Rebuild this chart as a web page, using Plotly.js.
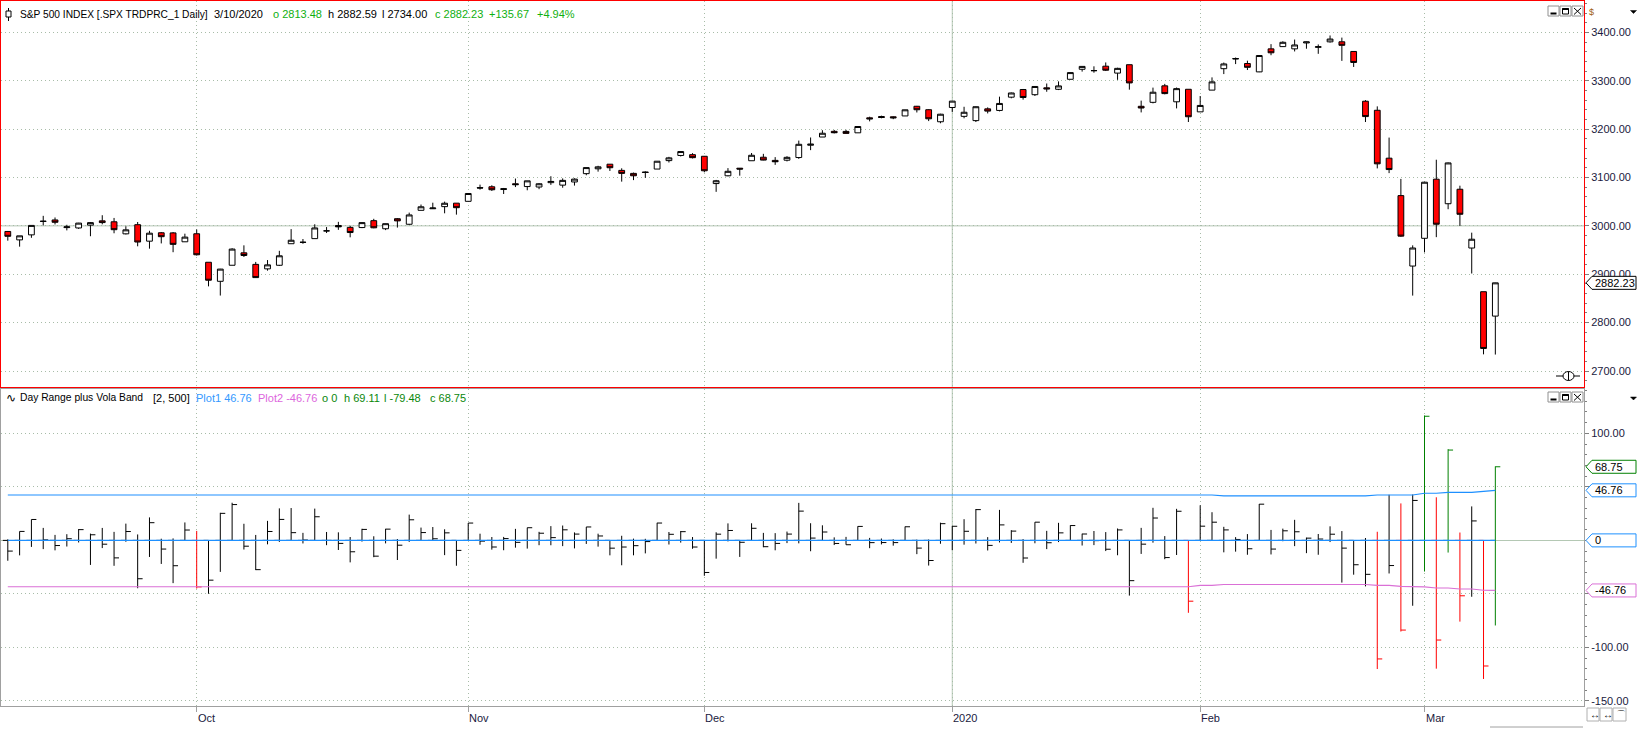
<!DOCTYPE html>
<html><head><meta charset="utf-8">
<script src="https://cdn.plot.ly/plotly-3.0.1.min.js"></script>
<style>html,body{margin:0;padding:0;background:#fff;overflow:hidden}#chart{width:1637px;height:730px;}</style>
</head><body><div id="chart"></div>
<script>
// ---------------- DATA ----------------
const dates = [
'2019-09-09','2019-09-10','2019-09-11','2019-09-12','2019-09-13','2019-09-16','2019-09-17','2019-09-18','2019-09-19','2019-09-20',
'2019-09-23','2019-09-24','2019-09-25','2019-09-26','2019-09-27','2019-09-30',
'2019-10-01','2019-10-02','2019-10-03','2019-10-04','2019-10-07','2019-10-08','2019-10-09','2019-10-10','2019-10-11','2019-10-14',
'2019-10-15','2019-10-16','2019-10-17','2019-10-18','2019-10-21','2019-10-22','2019-10-23','2019-10-24','2019-10-25','2019-10-28',
'2019-10-29','2019-10-30','2019-10-31',
'2019-11-01','2019-11-04','2019-11-05','2019-11-06','2019-11-07','2019-11-08','2019-11-11','2019-11-12','2019-11-13','2019-11-14',
'2019-11-15','2019-11-18','2019-11-19','2019-11-20','2019-11-21','2019-11-22','2019-11-25','2019-11-26','2019-11-27','2019-11-29',
'2019-12-02','2019-12-03','2019-12-04','2019-12-05','2019-12-06','2019-12-09','2019-12-10','2019-12-11','2019-12-12','2019-12-13',
'2019-12-16','2019-12-17','2019-12-18','2019-12-19','2019-12-20','2019-12-23','2019-12-24','2019-12-26','2019-12-27','2019-12-30',
'2019-12-31',
'2020-01-02','2020-01-03','2020-01-06','2020-01-07','2020-01-08','2020-01-09','2020-01-10','2020-01-13','2020-01-14','2020-01-15',
'2020-01-16','2020-01-17','2020-01-21','2020-01-22','2020-01-23','2020-01-24','2020-01-27','2020-01-28','2020-01-29','2020-01-30',
'2020-01-31',
'2020-02-03','2020-02-04','2020-02-05','2020-02-06','2020-02-07','2020-02-10','2020-02-11','2020-02-12','2020-02-13','2020-02-14',
'2020-02-18','2020-02-19','2020-02-20','2020-02-21','2020-02-24','2020-02-25','2020-02-26','2020-02-27','2020-02-28',
'2020-03-02','2020-03-03','2020-03-04','2020-03-05','2020-03-06','2020-03-09','2020-03-10'
];
const openP = [
2988.43,2971.01,2981.41,3009.08,3012.21,2996.41,2995.67,3001.50,3010.36,3008.42,
2983.50,3002.43,2968.35,2985.73,2985.47,2967.07,
2983.69,2924.78,2885.38,2918.56,2944.23,2920.40,2911.10,2918.55,2963.07,2965.81,
2973.61,2989.68,3000.77,2996.84,2996.48,3010.73,2994.01,3014.78,3003.32,3032.12,
3035.39,3039.74,3046.90,
3050.72,3078.96,3080.80,3075.10,3087.02,3081.25,3080.33,3089.28,3084.18,3090.75,
3107.92,3117.91,3127.45,3114.66,3108.49,3111.41,3117.44,3134.85,3145.49,3147.18,
3143.85,3087.41,3103.50,3119.21,3134.62,3141.86,3135.36,3135.75,3141.23,3166.65,
3183.63,3195.40,3195.21,3192.32,3223.33,3226.05,3225.45,3227.20,3247.23,3240.09,
3215.18,
3244.67,3226.36,3217.55,3241.86,3238.59,3266.03,3281.81,3271.13,3285.35,3282.27,
3302.97,3323.66,3321.03,3330.02,3315.77,3333.10,3247.16,3255.35,3289.46,3256.45,
3282.33,
3235.66,3280.61,3324.91,3344.92,3335.54,3318.28,3365.87,3370.50,3365.90,3378.08,
3369.04,3380.39,3380.45,3360.50,3257.61,3238.94,3139.90,3062.54,2916.90,
2974.28,3096.46,3045.75,3075.70,2954.20,2863.89,2813.48
];
const highP = [
2989.43,2979.39,3000.93,3020.74,3017.33,3002.19,3006.21,3007.83,3021.99,3016.37,
2999.15,3007.98,2989.82,2987.28,2987.31,2983.83,
2992.53,2924.78,2911.13,2953.74,2959.75,2925.47,2929.32,2948.46,2993.28,2972.84,
3003.28,2997.54,3008.29,3000.00,3007.33,3014.57,3004.78,3016.07,3027.39,3044.08,
3047.87,3050.10,3046.90,
3066.95,3085.20,3083.95,3078.34,3097.77,3093.09,3088.33,3102.61,3098.06,3098.20,
3120.46,3124.17,3127.64,3118.97,3110.11,3112.87,3133.83,3142.69,3154.26,3150.30,
3144.31,3094.97,3119.38,3119.45,3150.60,3148.87,3142.12,3143.98,3176.28,3182.68,
3197.71,3198.22,3198.48,3205.48,3225.65,3227.78,3226.43,3240.08,3247.93,3240.92,
3231.72,
3258.14,3246.15,3246.84,3244.91,3267.07,3275.58,3282.99,3288.13,3294.25,3298.66,
3317.11,3329.88,3329.79,3337.77,3326.88,3333.18,3258.85,3285.78,3293.47,3285.91,
3282.33,
3268.44,3306.92,3337.58,3347.96,3341.42,3352.26,3375.63,3381.47,3385.09,3380.69,
3375.01,3393.52,3389.15,3360.76,3259.81,3246.99,3182.51,3097.07,2959.72,
3090.96,3136.72,3130.97,3083.04,2985.93,2863.89,2882.59
];
const lowP = [
2969.39,2957.01,2975.31,3000.92,3002.90,2990.67,2993.73,2978.57,3003.16,2984.68,
2982.23,2957.73,2952.86,2963.71,2945.53,2967.07,
2938.70,2874.93,2855.94,2918.56,2935.68,2892.66,2907.41,2917.12,2963.07,2962.94,
2973.61,2985.20,2991.79,2976.31,2995.35,2995.04,2991.21,2996.45,3001.94,3032.12,
3034.81,3025.96,3023.19,
3050.72,3074.87,3072.15,3065.89,3080.23,3073.58,3075.82,3084.73,3078.80,3083.26,
3104.60,3112.06,3113.47,3091.41,3094.55,3099.26,3117.44,3131.00,3143.41,3139.34,
3110.78,3070.33,3102.53,3103.76,3134.62,3135.46,3126.09,3133.21,3138.47,3156.51,
3183.63,3191.03,3191.14,3192.32,3216.03,3222.30,3220.51,3227.20,3234.37,3216.57,
3212.03,
3235.53,3222.34,3214.64,3232.43,3236.67,3263.67,3260.86,3268.43,3277.19,3280.69,
3302.82,3318.86,3316.61,3320.04,3301.87,3281.53,3234.50,3253.22,3271.89,3242.80,
3214.68,
3235.66,3280.61,3313.75,3334.39,3322.12,3317.77,3352.72,3369.72,3360.52,3366.15,
3355.61,3378.83,3341.02,3328.45,3214.65,3118.77,3108.99,2977.39,2855.84,
2945.19,2976.63,3034.38,2999.83,2901.54,2734.43,2734.00
];
const closeP = [
2978.43,2979.39,3000.93,3009.57,3007.39,2997.96,3005.70,3006.73,3006.79,2992.07,
2991.78,2966.60,2984.87,2977.62,2961.79,2976.74,
2940.25,2887.61,2910.63,2952.01,2938.79,2893.06,2919.40,2938.13,2970.27,2966.15,
2995.68,2989.69,2997.95,2986.20,3006.72,2995.99,3004.52,3010.29,3022.55,3039.42,
3036.89,3046.77,3037.56,
3066.91,3078.27,3074.62,3076.78,3085.18,3093.08,3087.01,3091.84,3094.04,3096.63,
3120.46,3122.03,3120.18,3108.46,3103.54,3110.29,3133.64,3140.52,3153.63,3140.98,
3113.87,3093.20,3112.76,3117.43,3145.91,3135.96,3132.52,3141.63,3168.57,3168.80,
3191.45,3192.52,3191.14,3205.37,3221.22,3224.01,3223.38,3239.91,3240.02,3221.29,
3230.78,
3257.85,3234.85,3246.28,3237.18,3253.05,3274.70,3265.35,3288.13,3283.15,3289.29,
3316.81,3329.62,3320.79,3321.75,3325.54,3295.47,3243.63,3276.24,3273.40,3283.66,
3225.52,
3248.92,3297.59,3334.69,3345.78,3327.71,3352.09,3357.75,3379.45,3373.94,3380.16,
3370.29,3386.15,3373.23,3337.75,3225.89,3128.21,3116.39,2978.76,2954.22,
3090.23,3003.37,3130.12,3023.94,2972.37,2746.56,2882.23
];
// Vola band (Plot1 upper, Plot2 lower)
const plot1 = [
42.4,42.4,42.4,42.4,42.4,42.4,42.4,42.4,42.4,42.4,42.4,42.4,42.4,42.4,42.4,42.4,
43.1,43.1,43.1,43.1,43.1,43.1,43.1,43.1,43.1,43.1,
43.1,43.1,43.1,43.1,43.1,43.1,43.1,43.1,43.1,43.1,
43.1,43.1,43.1,43.1,43.1,43.1,43.1,43.1,43.1,43.1,
43.1,43.1,43.1,43.1,43.1,43.1,43.1,43.1,43.1,43.1,
43.1,43.1,43.1,43.1,43.1,43.1,43.1,43.1,43.1,43.1,
43.1,43.1,43.1,43.1,43.1,43.1,43.1,43.1,43.1,43.1,
43.1,43.1,43.1,43.1,43.1,43.1,43.1,43.1,43.1,43.1,
43.1,43.1,43.1,43.1,43.1,43.1,43.1,43.1,43.1,43.1,
43.1,43.1,43.1,43.1,43.1,
42.4,42.4,
41.6,41.6,41.6,41.6,41.6,41.6,41.6,41.6,41.6,41.6,41.6,41.6,41.6,
42.4,42.4,42.4,42.4,
44.0,44.0,
44.9,44.9,44.9,
45.8,
46.76
];
const plot2 = [
-43.3,-43.3,-43.3,-43.3,-43.3,-43.3,-43.3,-43.3,-43.3,-43.3,
-43.3,-43.3,-43.3,-43.3,-43.3,-43.3,-43.3,-43.3,-43.3,-43.3,
-43.3,-43.3,-43.3,-43.3,-43.3,-43.3,-43.3,-43.3,-43.3,-43.3,
-43.3,-43.3,-43.3,-43.3,-43.3,-43.3,-43.3,-43.3,-43.3,-43.3,
-43.3,-43.3,-43.3,-43.3,-43.3,-43.3,-43.3,-43.3,-43.3,-43.3,
-43.3,-43.3,-43.3,-43.3,-43.3,-43.3,-43.3,-43.3,-43.3,-43.3,
-43.3,-43.3,-43.3,-43.3,-43.3,-43.3,-43.3,-43.3,-43.3,-43.3,
-43.3,-43.3,-43.3,-43.3,-43.3,-43.3,-43.3,-43.3,-43.3,-43.3,
-43.3,-43.3,-43.3,-43.3,-43.3,-43.3,-43.3,-43.3,-43.3,-43.3,
-43.3,-43.3,-43.3,-43.3,-43.3,-43.3,-43.3,-43.3,-43.3,-43.3,
-43.3,
-42.0,-42.0,
-41.2,-41.2,-41.2,-41.2,-41.2,-41.2,-41.2,-41.2,-41.2,-41.2,-41.2,-41.2,-41.2,
-42.0,-42.0,
-42.9,-42.9,
-43.5,
-44.5,-44.5,
-45.4,-45.4,
-46.6,
-46.76
];
const monthNames = ['Jan','Feb','Mar','Apr','May','Jun','Jul','Aug','Sep','Oct','Nov','Dec'];
const topTickVals = [2700,2800,2900,3000,3100,3200,3300,3400];
const botTickVals = [100,50,0,-50,-100,-150];
const botTickText = ['100.00','','','','-100.00','-150.00']; // 50 / 0 / -50 sit under the value boxes

// ---------------- DERIVED ----------------
const n = dates.length;
const idx = dates.map((d,i)=>i);
const last = n-1;
const monthIdx = [], monthText = [];
for (let i=1;i<n;i++){
  if (dates[i].slice(5,7)!==dates[i-1].slice(5,7)){
    const m = +dates[i].slice(5,7);
    monthIdx.push(i);
    monthText.push(m===1 ? dates[i].slice(0,4) : monthNames[m-1]);
  }
}
const relH = idx.map(i=>+(highP[i]-openP[i]).toFixed(2));
const relL = idx.map(i=>+(lowP[i]-openP[i]).toFixed(2));
const relC = idx.map(i=>+(closeP[i]-openP[i]).toFixed(2));
const groups = {black:[],red:[],green:[]};
idx.forEach(i=>{
  if (relC[i] > plot1[i]) groups.green.push(i);
  else if (relC[i] < plot2[i]) groups.red.push(i);
  else groups.black.push(i);
});

// ---------------- GEOMETRY ----------------
const W=1637,H=730,mL=1,mR=53,mT=1,mB=24;
const plotW=W-mL-mR, plotH=H-mT-mB;
const px=v=>(v-mL)/plotW;
const py=v=>(H-mB-v)/plotH;
const topDom=[py(387.3),1];
const botDom=[0,py(389)];
const topRange=[2666.3,3464.8];
const botRange=[-154.7,141.4];
const xRange=[-0.576,133.51];
const topUPP=(topRange[1]-topRange[0])/((topDom[1]-topDom[0])*plotH);
const botUPP=(botRange[1]-botRange[0])/((botDom[1]-botDom[0])*plotH);

const FONT='"Liberation Sans", Arial, sans-serif';
const GRID='#a8bca8', DOTS='1px,3px', AXC='#1a1a40';
const BLUE='#1e90ff', VIOLET='#da70d6', GREEN_T='#10b010', GREEN_B='#0a870a';

// ---------------- TRACES ----------------
const traces = [];
traces.push({
  type:'candlestick', x:idx, open:openP, high:highP, low:lowP, close:closeP,
  xaxis:'x2', yaxis:'y2', whiskerwidth:0, hoverinfo:'skip',
  increasing:{fillcolor:'#ffffff', line:{color:'#000000', width:1}},
  decreasing:{fillcolor:'#ff0000', line:{color:'#000000', width:1}}
});
const colMap = {black:'#000000', red:'#ff0000', green:'#008000'};
Object.keys(groups).forEach(k=>{
  const g = groups[k];
  traces.push({
    type:'ohlc', xaxis:'x', yaxis:'y', hoverinfo:'skip', tickwidth:0.42,
    x:g, open:g.map(()=>0), high:g.map(i=>relH[i]), low:g.map(i=>relL[i]), close:g.map(i=>relC[i]),
    increasing:{line:{color:colMap[k], width:1}},
    decreasing:{line:{color:colMap[k], width:1}}
  });
});
traces.push({type:'scatter', mode:'lines', x:[idx[0], idx[last]], y:[0,0], xaxis:'x', yaxis:'y', line:{color:BLUE, width:1.2}, hoverinfo:'skip'});
traces.push({type:'scatter', mode:'lines', x:idx, y:plot1, xaxis:'x', yaxis:'y', line:{color:BLUE, width:1.2}, hoverinfo:'skip'});
traces.push({type:'scatter', mode:'lines', x:idx, y:plot2, xaxis:'x', yaxis:'y', line:{color:VIOLET, width:1.2}, hoverinfo:'skip'});

// ---------------- DECOR ----------------
const shapes = [], annotations = [];
shapes.push({type:'line', xref:'paper', yref:'y2', x0:0, x1:1, y0:3000, y1:3000, line:{color:'#b4c6b4', width:1}, layer:'below'});
const yearIdx = monthIdx[monthText.findIndex(t=>/^\d{4}$/.test(t))];
shapes.push({type:'line', xref:'x', yref:'paper', x0:yearIdx, x1:yearIdx, y0:0, y1:1, line:{color:'#b4c8b4', width:1}, layer:'below'});

function valueBox(val, yref, upp, border, label){
  const h = 6.5*upp;
  shapes.push({type:'path', xref:'paper', yref:yref, layer:'above',
    path:`M ${px(1586)},${val} L ${px(1592)},${val+h} L ${px(1636)},${val+h} L ${px(1636)},${val-h} L ${px(1592)},${val-h} Z`,
    line:{color:border, width:1}, fillcolor:'#ffffff'});
  annotations.push({xref:'paper', yref:yref, x:px(1593), y:val, xanchor:'left', yanchor:'middle',
    text:label, showarrow:false, font:{family:FONT, size:11, color:'#000000'}});
}
valueBox(closeP[last], 'y2', topUPP, '#000000', closeP[last].toFixed(2));
valueBox(relC[last], 'y', botUPP, '#008000', relC[last].toFixed(2));
valueBox(plot1[last], 'y', botUPP, BLUE, plot1[last].toFixed(2));
valueBox(0, 'y', botUPP, BLUE, '0');
valueBox(plot2[last], 'y', botUPP, VIOLET, plot2[last].toFixed(2));

function txt(t, x, y, color, size){
  annotations.push({xref:'paper', yref:'paper', x:px(x), y:py(y), xanchor:'left', yanchor:'middle',
    text:t, showarrow:false, font:{family:FONT, size:size||11, color:color||'#000000'}});
}
const d = dates[last].split('-');
const chg = closeP[last]-closeP[last-1];
const pct = chg/closeP[last-1]*100;
txt('S&P 500 INDEX [.SPX TRDPRC_1 Daily]', 18, 14.5, '#000', 10.2);
txt(`${+d[1]}/${+d[2]}/${d[0]}`, 211.6, 14.5);
txt(`o ${openP[last].toFixed(2)}`, 271, 14.5, GREEN_T);
txt(`h ${highP[last].toFixed(2)}`, 325.7, 14.5);
txt(`l ${lowP[last].toFixed(2)}`, 380, 14.5);
txt(`c ${closeP[last].toFixed(2)}`, 432.5, 14.5, GREEN_T);
txt(`${chg>=0?'+':''}${chg.toFixed(2)}`, 487.2, 14.5, GREEN_T);
txt(`${pct>=0?'+':''}${pct.toFixed(2)}%`, 534.6, 14.5, GREEN_T);

txt('∿', 3.5, 397.5, '#000', 12);
txt('Day Range plus Vola Band', 18.3, 397.7, '#000', 10.3);
txt('[2, 500]', 150.7, 397.7);
txt(`Plot1 ${plot1[last].toFixed(2)}`, 194.3, 397.7, '#3399ff');
txt(`Plot2 ${plot2[last].toFixed(2)}`, 255.7, 397.7, '#dd66dd');
txt('o 0', 320.3, 397.7, GREEN_B);
txt(`h ${relH[last].toFixed(2)}`, 341.7, 397.7, GREEN_B);
txt(`l ${relL[last].toFixed(2)}`, 381.7, 397.7, GREEN_B);
txt(`c ${relC[last].toFixed(2)}`, 427.7, 397.7, GREEN_B);

monthIdx.forEach((mi,k)=>{
  annotations.push({xref:'x', yref:'paper', x:mi, y:py(717.5), xanchor:'left', yanchor:'middle', xshift:-1,
    text:monthText[k], showarrow:false, font:{family:FONT, size:11, color:AXC}});
});

function rectPx(x0,y0,x1,y1,line,fill,w){
  shapes.push({type:'rect', xref:'paper', yref:'paper', x0:px(x0), x1:px(x1), y0:py(y0), y1:py(y1),
    line:{color:line||'#000', width:w===undefined?1:w}, fillcolor:fill||'rgba(0,0,0,0)', layer:'above'});
}
function linePx(x0,y0,x1,y1,color,w){
  shapes.push({type:'line', xref:'paper', yref:'paper', x0:px(x0), x1:px(x1), y0:py(y0), y1:py(y1),
    line:{color:color||'#000', width:w||1}, layer:'above'});
}
function triPx(xc,yc){
  shapes.push({type:'path', xref:'paper', yref:'paper', layer:'above',
    path:`M ${px(xc-3)},${py(yc-1.5)} L ${px(xc+3)},${py(yc-1.5)} L ${px(xc)},${py(yc+1.5)} Z`,
    line:{color:'#000', width:0.5}, fillcolor:'#000'});
}
function buttons(yTop){
  rectPx(1548,yTop,1559,yTop+10,'#909090','#ffffff');
  rectPx(1560,yTop,1571,yTop+10,'#909090','#ffffff');
  rectPx(1572,yTop,1583,yTop+10,'#909090','#ffffff');
  rectPx(1550.5,yTop+6.5,1556.5,yTop+8.5,'#000','#000',0);
  rectPx(1562.5,yTop+2.5,1568.5,yTop+8,'#000','rgba(0,0,0,0)',1);
  linePx(1562.5,yTop+3,1568.5,yTop+3,'#000',2);
  linePx(1574,yTop+2,1581,yTop+8.5,'#000',1);
  linePx(1581,yTop+2,1574,yTop+8.5,'#000',1);
}
buttons(6);
buttons(392);
linePx(8.5,8,8.5,21,'#000',1);
rectPx(6,11,11,17,'#000','#ffffff',1);
linePx(1556,376,1580,376,'#000',1);
shapes.push({type:'circle', xref:'paper', yref:'paper', x0:px(1563), x1:px(1574), y0:py(371.5), y1:py(380.5), line:{color:'#000',width:1}, fillcolor:'#ffffff', layer:'above'});
linePx(1568.5,371.5,1568.5,380.5,'#000',1);
txt('$', 1587, 12.5, '#a06010', 9);
triPx(1633.5, 12);
triPx(1633.5, 398.5);
rectPx(1587,708,1599,721,'#b0b0b0','#ffffff');
rectPx(1600,708,1612,721,'#b0b0b0','#ffffff');
rectPx(1613,708,1626,721,'#b0b0b0','#ffffff');
txt('↔', 1587.5, 714.5, '#000', 10);
txt('↔', 1600.5, 714.5, '#000', 10);
txt('⌒', 1614, 714, '#000', 10);
linePx(1490,727,1583,727,'#a0a0a0',1);

// ---------------- LAYOUT ----------------
const layout = {
  width:W, height:H, margin:{l:mL, r:mR, t:mT, b:mB, pad:0},
  paper_bgcolor:'#ffffff', plot_bgcolor:'#ffffff', showlegend:false,
  font:{family:FONT, size:11, color:AXC},
  boxgap:0.3,
  xaxis:{
    domain:[0,1], anchor:'y', range:xRange, rangeslider:{visible:false},
    tickmode:'array', tickvals:monthIdx, showticklabels:false,
    ticks:'outside', ticklen:5, tickcolor:'#a0a0a0',
    showgrid:true, gridcolor:GRID, griddash:DOTS, gridwidth:1,
    zeroline:false, showline:true, linecolor:'#a0a0a0', linewidth:1, mirror:true
  },
  xaxis2:{
    domain:[0,1], anchor:'y2', matches:'x', range:xRange, rangeslider:{visible:false},
    tickmode:'array', tickvals:monthIdx, showticklabels:false, ticks:'',
    showgrid:true, gridcolor:GRID, griddash:DOTS, gridwidth:1,
    zeroline:false, showline:true, linecolor:'#ff0000', linewidth:1, mirror:true
  },
  yaxis:{
    domain:botDom, anchor:'x', side:'right', range:botRange,
    tickmode:'array', tickvals:botTickVals, ticktext:botTickText,
    ticks:'outside', ticklen:4, tickcolor:'#808080',
    tickfont:{family:FONT, size:11, color:AXC},
    showgrid:true, gridcolor:GRID, griddash:DOTS, gridwidth:1,
    zeroline:true, zerolinecolor:'#b4c8b4', zerolinewidth:1,
    showline:true, linecolor:'#a0a0a0', linewidth:1, mirror:true,
    minor:{tickmode:'linear', tick0:0, dtick:10, ticks:'outside', ticklen:2, tickcolor:'#808080', showgrid:false}
  },
  yaxis2:{
    domain:topDom, anchor:'x2', side:'right', range:topRange,
    tickmode:'array', tickvals:topTickVals, tickformat:'.2f',
    ticks:'outside', ticklen:4, tickcolor:'#808080',
    tickfont:{family:FONT, size:11, color:AXC},
    showgrid:true, gridcolor:GRID, griddash:DOTS, gridwidth:1,
    zeroline:false, showline:true, linecolor:'#ff0000', linewidth:1, mirror:true,
    minor:{tickmode:'linear', tick0:0, dtick:20, ticks:'outside', ticklen:2, tickcolor:'#808080', showgrid:false}
  },
  shapes:shapes, annotations:annotations
};
Plotly.newPlot('chart', traces, layout, {staticPlot:true, displayModeBar:false});
</script>
</body></html>
